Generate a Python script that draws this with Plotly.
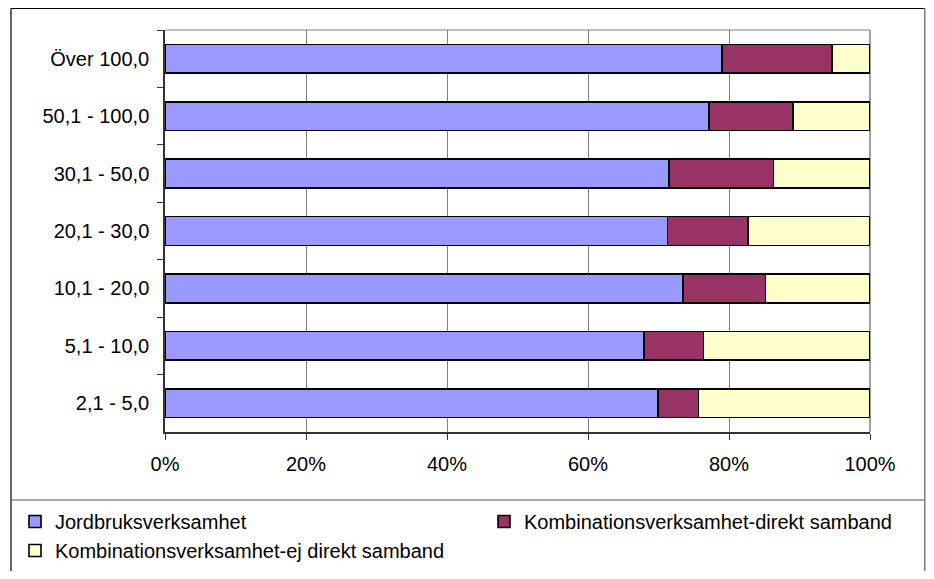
import plotly.graph_objects as go

categories = ["Över 100,0", "50,1 - 100,0", "30,1 - 50,0", "20,1 - 30,0",
              "10,1 - 20,0", "5,1 - 10,0", "2,1 - 5,0"]
jordbruk = [79.0, 77.2, 71.5, 71.3, 73.5, 67.9, 69.9]
komb_direkt = [15.6, 11.9, 14.8, 11.4, 11.7, 8.5, 5.8]
komb_ej_direkt = [5.4, 10.9, 13.7, 17.3, 14.8, 23.6, 24.3]
x_tick_values = [0, 20, 40, 60, 80, 100]
x_tick_labels = ["0%", "20%", "40%", "60%", "80%", "100%"]

series = [
    ("Jordbruksverksamhet", jordbruk, "#9999FF", "legend"),
    ("Kombinationsverksamhet-direkt samband", komb_direkt, "#993366", "legend2"),
    ("Kombinationsverksamhet-ej direkt samband", komb_ej_direkt, "#FFFFCC", "legend3"),
]

# page body has an 8px margin; figure coordinates = screen coordinates - 8
OFF = 8
W, H = 934 - 2 * OFF, 579 - 2 * OFF
L, R, T, B = 165 - OFF, 870 - OFF, 30 - OFF, 432 - OFF

fig = go.Figure()
for name, vals, col, lg in series:
    fig.add_trace(go.Bar(
        y=categories, x=vals, name=name, orientation="h",
        marker=dict(color=col, line=dict(color="#000000", width=1.6)),
        legend=lg, hoverinfo="x+name",
    ))

def px(x):
    return (x - OFF - L) / (R - L)

def py(y):
    return (B - (y - OFF)) / (B - T)

def line(x0, y0, x1, y1, color, width, layer="above"):
    return dict(type="line", xref="paper", yref="paper",
                x0=px(x0), x1=px(x1), y0=py(y0), y1=py(y1),
                line=dict(color=color, width=width), layer=layer)

RIGHT = OFF + W - 1.2
shapes = [
    # outer frame
    line(11, 8.5, RIGHT, 8.5, "#000000", 1.2),
    line(11, 8.5, 11, 600, "#000000", 1.2),
    line(RIGHT, 8.5, RIGHT, 600, "#7f7f7f", 1.5),
    # legend separator
    line(11, 500, RIGHT, 500, "#555555", 1),
    # plot area top / right (grey)
    line(165, 30, 870, 30, "#808080", 1.2, "below"),
    line(870, 30, 870, 432, "#808080", 1.5, "below"),
]

font = dict(family="Liberation Sans, Arial, sans-serif", size=20, color="#000000")

def leg(x, y):
    return dict(xref="container", yref="container", x=x / W, y=1 - y / H,
                xanchor="left", yanchor="top", font=font, bgcolor="rgba(0,0,0,0)")

fig.update_layout(
    width=W, height=H,
    margin=dict(l=L, r=W - R, t=T, b=H - B, pad=0, autoexpand=False),
    barmode="stack", bargap=0.5,
    paper_bgcolor="white", plot_bgcolor="white",
    font=font,
    shapes=shapes,
    showlegend=True,
    legend=leg(7, 494),
    legend2=leg(476, 494),
    legend3=leg(7, 523),
    xaxis=dict(range=[0, 100], tickmode="array", tickvals=x_tick_values, ticktext=x_tick_labels,
               automargin=False,
               showgrid=True, gridcolor="#808080", gridwidth=1,
               showline=True, linecolor="#333333", linewidth=1.5,
               ticks="outside", ticklen=6, tickcolor="#333333", tickwidth=1,
               ticklabelstandoff=7, zeroline=False, fixedrange=True),
    yaxis=dict(categoryorder="array", categoryarray=categories, autorange="reversed",
               automargin=False,
               showgrid=False, showline=True, linecolor="#333333", linewidth=1.5,
               ticks="outside", ticklen=6, tickcolor="#333333", tickwidth=1,
               tickson="boundaries", ticklabelstandoff=10, fixedrange=True),
)

fig.write_html("out.html")
